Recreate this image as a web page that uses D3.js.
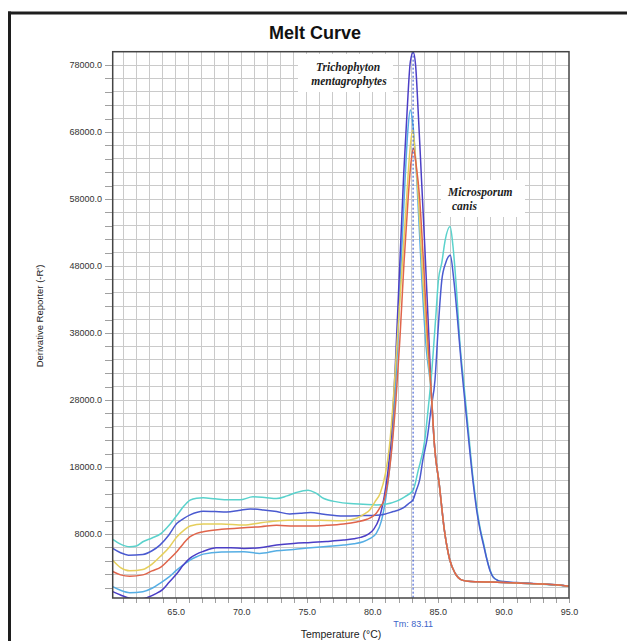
<!DOCTYPE html>
<meta charset="utf-8">
<style>
body { margin: 0; background: #fff; }
.grid line { stroke: #cacaca; stroke-width: 1; shape-rendering: crispEdges; }
.axis path { display: none; }
.axis line { stroke: #a0a0a0; shape-rendering: crispEdges; }
.axis text { font: 9px "Liberation Sans", Arial, sans-serif; fill: #333; }
.curve { fill: none; stroke-width: 1.5; stroke-linejoin: round; }
.note { font-family: "Liberation Serif", "Times New Roman", serif; font-style: italic; font-weight: bold; font-size: 11.5px; fill: #1c1c1c; }
</style>
<script src="https://cdn.jsdelivr.net/npm/d3@7"></script>
<body>
<script>

// melt curve data, [temperature °C, -dR/dT]
var tmTail = [[84.5,29000],[84.75,21000],[85.1,15500],[85.5,8500],[85.9,4200],[86.3,2200],[86.8,1150],[87.3,950],[88,870],[89,820],[90,760],[91,680],[92,620],[93,540],[94,420],[95,220]];

var indigoTm = [[60.2,-600],[60.8,-1100],[61.5,-1600],[62.2,-1700],[62.8,-1500],[63.5,-900],[64.0,-300],[64.5,800],[65.1,2100],[65.6,3400],[66.1,4400],[66.6,5000],[67.1,5400],[68.1,5950],[69.2,5950],[70.2,5850],[71.4,5950],[72.7,6350],[74,6600],[75.3,6750],[76.5,6900],[77.8,7100],[78.6,7300],[79.1,7500],[79.7,8000],[80.1,8700],[80.5,10200],[80.9,13500],[81.2,17500],[81.5,24000],[81.75,33000],[82.0,44000],[82.2,53000],[82.4,62000],[82.65,71000],[82.9,78500],[83.12,79900],[83.3,78000],[83.5,71000],[83.75,61000],[84.0,51000],[84.3,38000]].concat(tmTail);

var lightBlueTm = [[60.2,150],[60.8,-400],[61.5,-750],[62.5,-600],[63.2,-100],[63.8,650],[64.5,1600],[65.1,2650],[65.6,3400],[66.1,4100],[66.6,4600],[67.1,5000],[68.5,5300],[70.2,5350],[71.4,5100],[72.7,5500],[74,5700],[75.3,5950],[76.5,6150],[77.8,6350],[78.6,6550],[79.3,6850],[79.8,7300],[80.3,8100],[80.7,10000],[81.0,13000],[81.3,17500],[81.6,24000],[81.9,35000],[82.16,47000],[82.5,61000],[82.7,68000],[82.9,71300],[83.1,69000],[83.39,61000],[83.77,46200],[84.1,36000]].concat(tmTail);

var yellowTm = [[60.2,4100],[60.8,3000],[61.5,2500],[62.5,2700],[63.2,3500],[63.8,4600],[64.5,6000],[65.1,7600],[65.6,8500],[66.1,9200],[67.1,9500],[68.5,9500],[70.2,9350],[71.5,9700],[72.7,9950],[74.2,10100],[76,10050],[77.8,10000],[78.8,10350],[79.4,11000],[79.8,11600],[80.2,12800],[80.6,14100],[81.0,17000],[81.3,21000],[81.6,28000],[81.9,37000],[82.3,48600],[82.63,58600],[82.9,66000],[83.08,68300],[83.3,64000],[83.5,58600],[83.85,46200],[84.15,37000]].concat(tmTail);

var redTm = [[60.2,2400],[60.8,1900],[61.5,1700],[62.5,1900],[63.2,2500],[63.9,3100],[64.5,4200],[65.1,5400],[65.6,6600],[66.1,7600],[66.6,8100],[67.1,8350],[68.5,8700],[70.2,8950],[71.5,9100],[72.7,9300],[74,9200],[75.3,9200],[76.5,9300],[77.8,9500],[78.8,9800],[79.6,10200],[80.0,10600],[80.3,11100],[80.6,12000],[80.9,13100],[81.2,16000],[81.5,21000],[81.8,28000],[82.1,37000],[82.42,48600],[82.75,58600],[82.95,63500],[83.13,65600],[83.35,63000],[83.59,58600],[83.9,48600],[84.2,38000]].concat(tmTail);

var turquoiseMc = [[60.2,7200],[60.8,6500],[61.5,6100],[62.0,6200],[62.5,6850],[63.2,7400],[63.9,8100],[64.5,9300],[65.1,10800],[65.6,12100],[66.1,13050],[66.6,13350],[67.1,13400],[68,13250],[69,13100],[69.9,13100],[70.9,13550],[71.8,13450],[72.7,13300],[73.5,13700],[74.2,14200],[75.1,14550],[75.7,14100],[76.3,13300],[77.3,12800],[78.3,12550],[79.3,12450],[80.3,12350],[81.0,12450],[81.9,12950],[82.5,13600],[83.1,14500],[83.5,17500],[84.0,22000],[84.25,26500],[84.5,31500],[84.86,41000],[85.04,45900],[85.3,48500],[85.55,51800],[85.93,53900],[86.15,51000],[86.4,45000],[86.7,36000],[86.95,31000],[87.3,24000],[87.7,16000],[88.0,11500],[88.2,9100],[88.5,6500],[88.7,4600],[89.0,2500],[89.2,1650],[89.6,1050],[90.0,880],[91,700],[91.8,630],[93,500],[94,380],[95,200]];

var blueMc = [[60.2,5850],[60.8,5200],[61.4,4850],[62.5,4950],[63.2,5500],[63.8,6350],[64.5,7900],[65.1,9600],[65.6,10300],[66.1,10850],[67.1,11400],[68,11350],[68.9,11300],[69.8,11500],[70.7,11750],[71.7,11600],[72.7,11350],[73.7,11000],[74.5,11100],[75.3,11200],[76.3,10950],[77.8,10700],[79.3,10750],[80.3,10800],[81.0,11000],[81.6,11350],[81.9,11500],[82.5,12100],[82.8,12600],[83.1,13100],[83.35,14500],[83.6,16000],[83.85,19000],[84.2,22500],[84.5,27000],[84.78,31000],[85.0,38000],[85.3,45900],[85.6,48500],[85.95,49600],[86.2,46200],[86.5,40000],[86.8,33000],[87.0,29000],[87.3,23000],[87.7,15500],[88.0,11000],[88.2,8800],[88.5,6200],[88.7,4500],[89.0,2400],[89.2,1600],[89.6,1050],[90,900],[91,750],[92,650],[93,550],[94,420],[95,220]];

var xLabels = [65, 70, 75, 80, 85, 90, 95];
var yLabels = [8000, 18000, 28000, 38000, 48000, 58000, 68000, 78000];
var tmValue = 83.11;

var W = 627, H = 641;
var plotL = 112.7, plotR = 569, plotT = 51.7, plotB = 598;

var svg = d3.select("body").append("svg")
    .attr("width", W)
    .attr("height", H);

// outer frame (top and left edge only, the picture is cropped)
svg.append("line").attr("x1", 8).attr("x2", W).attr("y1", 13).attr("y2", 13)
    .attr("stroke", "#1e1e1e").attr("stroke-width", 3);
svg.append("line").attr("x1", 9.5).attr("x2", 9.5).attr("y1", 11.5).attr("y2", H)
    .attr("stroke", "#1e1e1e").attr("stroke-width", 3);

var x = d3.scaleLinear().domain([60.2, 95]).range([plotL, plotR]);
var y = d3.scaleLinear().domain([-1550, 80000]).range([plotB, plotT]);

svg.append("text")
    .attr("x", 315).attr("y", 39)
    .attr("text-anchor", "middle")
    .style("font", "bold 18px 'Liberation Sans', Arial, sans-serif")
    .style("fill", "#111")
    .text("Melt Curve");

// grid
var grid = svg.append("g").attr("class", "grid");
grid.selectAll(".v").data(d3.range(61, 95, 1)).enter().append("line")
    .attr("x1", function(d) { return x(d); }).attr("x2", function(d) { return x(d); })
    .attr("y1", plotT).attr("y2", plotB);
grid.selectAll(".h").data(d3.range(0, 78001, 2000)).enter().append("line")
    .attr("x1", plotL).attr("x2", plotR)
    .attr("y1", function(d) { return y(d); }).attr("y2", function(d) { return y(d); });

// axes
var xAxis = d3.axisBottom(x)
    .tickValues(d3.range(61, 95.01, 1))
    .tickSize(5).tickPadding(5.5)
    .tickFormat(function(d) { return xLabels.indexOf(d) >= 0 ? d3.format(".1f")(d) : ""; });
svg.append("g").attr("class", "x axis")
    .attr("transform", "translate(0," + plotB + ")")
    .call(xAxis);

var yAxis = d3.axisLeft(y)
    .tickValues(d3.range(0, 78001, 2000))
    .tickSize(8).tickPadding(2.7)
    .tickFormat(function(d) { return yLabels.indexOf(d) >= 0 ? d3.format(".1f")(d) : ""; });
svg.append("g").attr("class", "y axis")
    .attr("transform", "translate(" + plotL + ",0)")
    .call(yAxis);

// annotation boxes
var notes = [
  {x0: 298, y0: 54, w: 95, h: 38, lines: [["Trichophyton", 348, 70.5, "middle"], ["mentagrophytes", 349, 85, "middle"]]},
  {x0: 441, y0: 180, w: 84, h: 37, lines: [["Microsporum", 448, 196, "start"], ["canis", 452, 210, "start"]]}
];
notes.forEach(function(n) {
  svg.append("rect").attr("x", n.x0).attr("y", n.y0).attr("width", n.w).attr("height", n.h)
      .attr("fill", "#fff");
  n.lines.forEach(function(l) {
    svg.append("text").attr("class", "note")
        .attr("x", l[1]).attr("y", l[2]).attr("text-anchor", l[3]).text(l[0]);
  });
});

// curves
var line = d3.line()
    .x(function(d) { return x(d[0]); })
    .y(function(d) { return y(d[1]); })
    .curve(d3.curveMonotoneX);

var series = [
  {data: lightBlueTm, color: "#55aee4"},
  {data: indigoTm, color: "#4b3ec6"},
  {data: turquoiseMc, color: "#5ad2cc"},
  {data: blueMc, color: "#4a5ad0"},
  {data: yellowTm, color: "#e5cf5c"},
  {data: redTm, color: "#e0644a"}
];

svg.append("clipPath").attr("id", "plot")
  .append("rect").attr("x", plotL).attr("y", plotT).attr("width", plotR - plotL).attr("height", plotB - plotT);

svg.append("g").attr("clip-path", "url(#plot)")
  .selectAll("path").data(series).enter().append("path")
    .attr("class", "curve")
    .attr("d", function(d) { return line(d.data); })
    .attr("stroke", function(d) { return d.color; });

// Tm marker
svg.append("line")
    .attr("x1", x(tmValue)).attr("x2", x(tmValue))
    .attr("y1", plotT).attr("y2", plotB)
    .attr("stroke", "#2b4ccf").attr("stroke-width", 1)
    .attr("stroke-dasharray", "2,2");

svg.append("text")
    .attr("x", x(tmValue)).attr("y", 627)
    .attr("text-anchor", "middle")
    .style("font", "9px 'Liberation Sans', Arial, sans-serif")
    .style("fill", "#3c64c8")
    .text("Tm: " + tmValue);

// plot border
svg.append("rect")
    .attr("x", plotL).attr("y", plotT).attr("width", plotR - plotL).attr("height", plotB - plotT)
    .attr("fill", "none").attr("stroke", "#444").attr("stroke-width", 1.5);

// axis titles
svg.append("text")
    .attr("x", 341).attr("y", 637.5)
    .attr("text-anchor", "middle")
    .style("font", "10.5px 'Liberation Sans', Arial, sans-serif")
    .style("fill", "#222")
    .text("Temperature (°C)");

svg.append("text")
    .attr("transform", "translate(43,316) rotate(-90)")
    .attr("text-anchor", "middle")
    .style("font", "9.5px 'Liberation Sans', Arial, sans-serif")
    .style("fill", "#222")
    .text("Derivative Reporter (-R')");

</script>
</body>
